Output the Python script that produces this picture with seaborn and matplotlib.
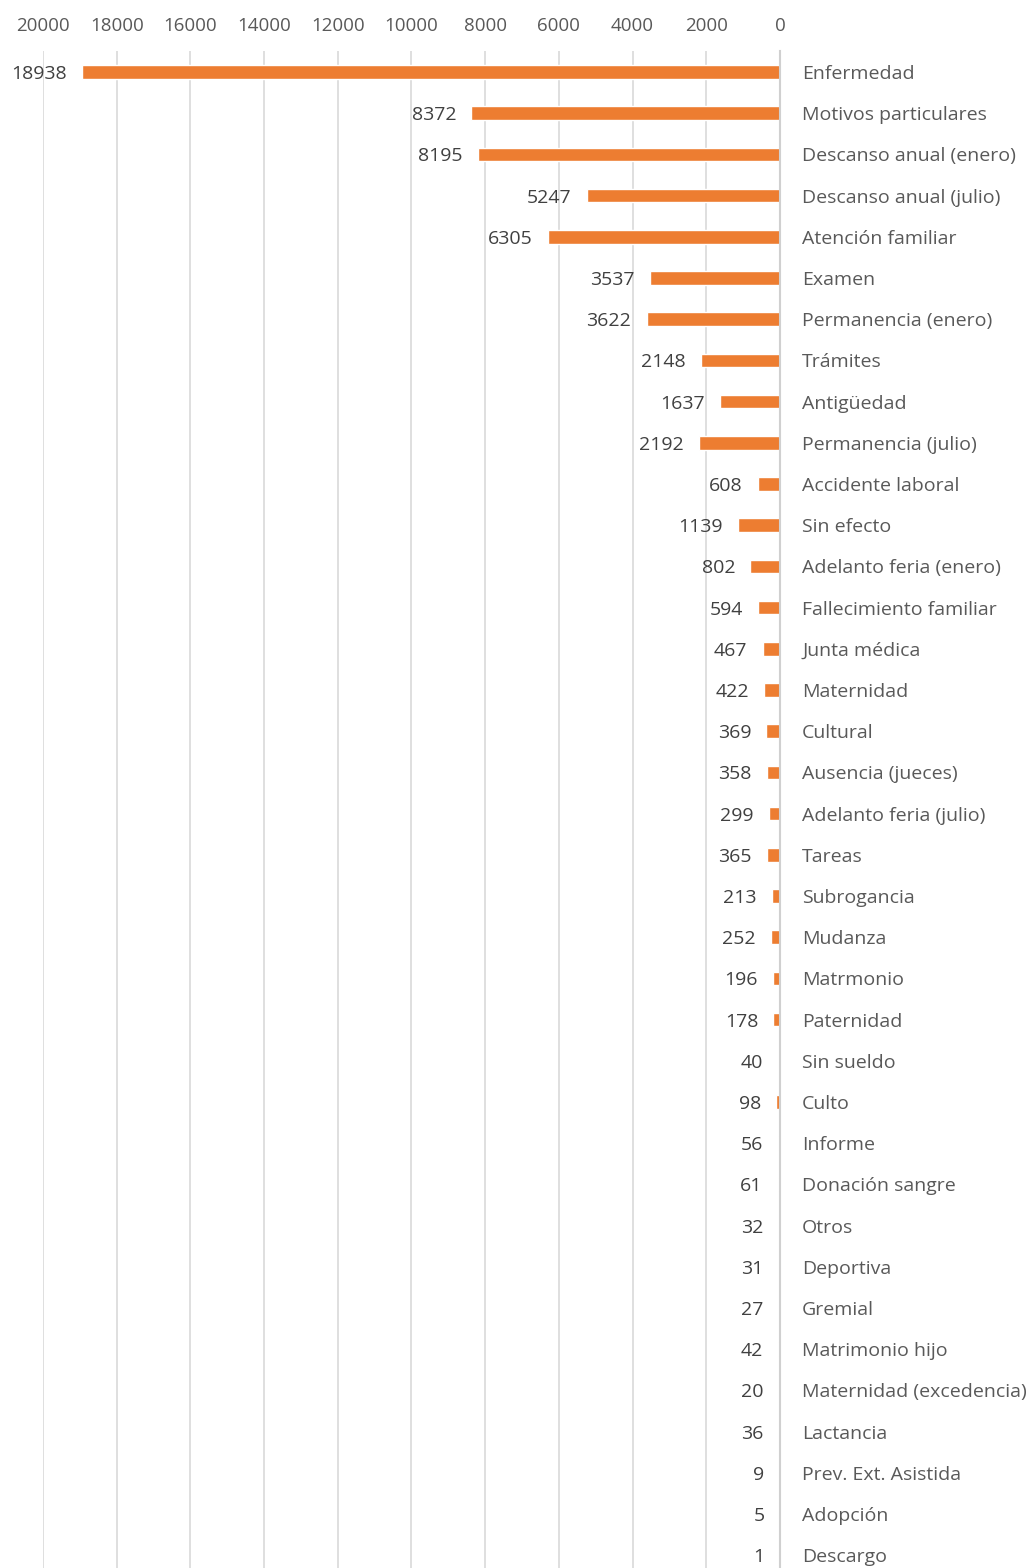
import matplotlib
matplotlib.use("Agg")
import matplotlib.pyplot as plt
import seaborn as sns
import pandas as pd

categories = ["Enfermedad", "Motivos particulares", "Descanso anual (enero)", "Descanso anual (julio)",
              "Atención familiar", "Examen", "Permanencia (enero)", "Trámites", "Antigüedad",
              "Permanencia (julio)", "Accidente laboral", "Sin efecto", "Adelanto feria (enero)",
              "Fallecimiento familiar", "Junta médica", "Maternidad", "Cultural", "Ausencia (jueces)",
              "Adelanto feria (julio)", "Tareas", "Subrogancia", "Mudanza", "Matrmonio", "Paternidad",
              "Sin sueldo", "Culto", "Informe", "Donación sangre", "Otros", "Deportiva", "Gremial",
              "Matrimonio hijo", "Maternidad (excedencia)", "Lactancia", "Prev. Ext. Asistida",
              "Adopción", "Descargo"]
values = [18938, 8372, 8195, 5247, 6305, 3537, 3622, 2148, 1637, 2192, 608, 1139, 802, 594,
          467, 422, 369, 358, 299, 365, 213, 252, 196, 178, 40, 98, 56, 61, 32, 31, 27, 42,
          20, 36, 9, 5, 1]
ticks = [20000, 18000, 16000, 14000, 12000, 10000, 8000, 6000, 4000, 2000, 0]

df = pd.DataFrame({"cat": categories, "val": values})

sns.set_style("white")
plt.rcParams["font.family"] = ["Open Sans", "DejaVu Sans"]

fig = plt.figure(figsize=(10.36, 15.68), dpi=100)
W, H = 1036, 1568
n = len(categories)
top_px = 72 - 0.5 * 41.2
bot_px = 72 + (n - 0.5) * 41.2
ax = fig.add_axes([43 / W, 1 - bot_px / H, (780 - 43) / W, (bot_px - top_px) / H])

sns.barplot(data=df, x="val", y="cat", orient="h", color="#ED7D31", width=0.33,
            saturation=1, ax=ax)

ax.set_xlim(20000, 0)
ax.set_ylim(n - 0.5, -0.5)
ax.set_xticks(ticks)
ax.set_xticklabels([str(t) for t in ticks])
ax.xaxis.tick_top()
ax.tick_params(axis="x", length=0, pad=12, labelsize=13.5, labelcolor="#595959")
ax.yaxis.tick_right()
ax.tick_params(axis="y", length=0, pad=16, labelsize=14, labelcolor="#595959")
for lab in ax.get_yticklabels():
    lab.set_horizontalalignment("left")
ax.set_xlabel("")
ax.set_ylabel("")
ax.grid(axis="x", color="#d9d9d9", linewidth=1.2)
ax.set_axisbelow(True)
for s in ["top", "bottom", "left"]:
    ax.spines[s].set_visible(False)
ax.spines["right"].set_color("#d0d0d0")
ax.spines["right"].set_linewidth(1.5)

for i, v in enumerate(values):
    ax.annotate(str(v), xy=(v, i), xytext=(-11, 0), textcoords="offset points",
                ha="right", va="center_baseline", fontsize=14, color="#404040")

fig.savefig("out.png", dpi=100)
